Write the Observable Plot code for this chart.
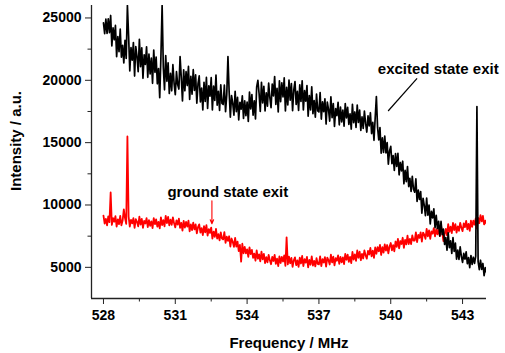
<!DOCTYPE html>
<html>
<head>
<meta charset="utf-8">
<script src="https://cdn.jsdelivr.net/npm/d3@7"></script>
<script src="https://cdn.jsdelivr.net/npm/@observablehq/plot@0.6"></script>
<style>
  body { margin: 0; background: #fff; }
</style>
</head>
<body>
<div id="chart"></div>
<script>
// Frequency grid of the scan (MHz): first sample and sample spacing
const freqStart = 528;
const freqStep = 0.05;

// Detected intensity (a.u.), one row per MHz, 20 samples each
const excitedState = [
  24600,23740,24910,23760,24930,23820,25200,22750,24200,23250,24400,21900,23500,22300,24100,21850,22800,21400,23200,21750,
  26000,23550,20750,22620,21620,23020,20340,22700,21930,20690,23290,21090,22610,20160,22040,21280,22680,20240,22110,20510,
  21780,19760,22420,20640,21860,19720,20940,18600,21940,26000,21060,19240,21980,19920,21410,18940,20550,19160,21250,19760,
  18850,20690,19670,19300,21900,20240,18340,20840,19160,20690,19580,21110,18460,20320,18880,20850,19190,20430,18160,19730,
  20350,18270,19380,17630,19840,18310,20230,17750,19560,18730,20210,17620,19540,18380,20420,18010,19120,17590,19630,18150,
  18060,19610,17480,18850,21900,19080,17040,18770,18170,17200,19120,17480,18640,16820,18240,17690,18750,16940,18360,17170,
  18250,16700,19050,17700,18850,17200,18350,16900,19480,20000,18940,17500,19840,18180,19520,17550,19000,17930,19770,18600,
  17800,19700,18740,20300,18070,19360,17460,19960,18280,19790,18670,20190,17540,19430,18020,20020,18400,19740,17560,19230,
  19900,18060,19120,17580,19640,18300,19960,17620,19180,18330,19580,17130,18780,17630,19480,17330,18380,17040,18890,17550,
  17460,19020,16890,18270,17490,18510,16490,18250,17670,16730,18670,17010,18140,16300,17730,17170,18240,16430,17850,16670,
  17620,16320,18130,16990,17840,16460,17310,16090,18070,16600,17460,16220,18020,16620,17620,15980,17060,16140,17540,16540,
  15850,17140,16350,17400,15730,16620,15190,16980,18700,16220,15220,16210,14160,15380,14210,15520,14180,15010,13280,14340,
  14700,13310,13960,12780,14130,13090,14150,12420,13410,12730,13510,11700,12770,11870,13080,11480,12130,11090,12300,11260,
  11030,12090,10280,11200,10440,11080,9340,10540,9970,9140,10560,9190,9990,8480,9490,8960,9690,8190,9170,8110,
  8690,7510,8680,7620,8070,6830,7380,6370,7770,6580,7130,6120,7390,6270,6950,5650,6390,5630,6650,5880,
  5400,6120,5660,6240,5290,5780,4970,5950,5230,5810,5320,5890,17900,5460,4820,5570,4830,5310,4340,4970,
  4600
];

const groundState = [
  9150,8510,8890,8360,9090,8620,11000,8400,8950,8660,9110,8260,8850,8460,9120,8370,8750,9650,8950,8480,
  15500,9070,8260,8810,8530,8940,8170,8860,8650,8290,9060,8420,8880,8170,8730,8520,8940,8230,8790,8330,
  8690,8140,8950,8460,8850,8260,8650,8130,9010,8390,8780,8280,9120,8550,9040,8370,8830,8410,9000,8530,
  8200,8770,8430,8900,8170,8570,7950,8730,8180,8640,8270,8740,7880,8450,7980,8590,8040,8440,7720,8230,
  8450,7790,8150,7590,8300,7810,8380,7540,8070,7760,8190,7310,7870,7450,8080,7310,7660,7170,7800,7310,
  7240,7820,6960,7460,7130,7490,6670,7310,7050,6640,7360,6670,7060,6300,6800,5450,6890,6130,6630,6120,
  6440,5840,6600,6060,6400,5760,6100,5530,6360,5690,6030,5480,6260,5640,6070,5340,5810,5400,6000,5560,
  5250,5840,5510,5990,5280,5690,5090,5880,5350,5830,5470,5950,5110,7400,5240,5860,5330,5750,5040,5560,
  5800,5170,5560,5030,5770,5310,5910,5100,5660,5380,5840,5000,5590,5210,5870,5140,5520,5070,5730,5280,
  5240,5880,5090,5660,5390,5820,5060,5770,5570,5230,6010,5390,5850,5160,5730,5530,5960,5270,5840,5400,
  5790,5250,6080,5610,6010,5440,5840,5340,6230,5620,6030,5520,6350,5770,6250,5570,6080,5710,6360,5960,
  5700,6320,6030,6550,5880,6330,5760,6590,6090,6610,6290,6800,5990,6610,6180,6840,6340,6790,6120,6670,
  6950,6360,6780,6290,7070,6650,7280,6520,7110,6870,7370,6560,7200,6850,7550,6860,7280,6860,7560,7150,
  7140,7800,7020,7610,7360,7810,7060,7790,7610,7290,8090,7480,7970,7290,7880,7700,8150,7480,8060,7640,
  8040,7500,8320,7850,7100,7680,8080,7570,8460,7850,8260,7750,8570,7990,8470,7790,8290,7930,8570,8170,
  7900,8520,8220,8730,8050,8490,7920,8740,8240,8750,8420,8930,8110,8970,8540,9190,8680,9120,8440,8740,
  8500
];

// Axis ticks
const xDomain = [527.5, 544];
const yDomain = [2500, 26000];
const xTicks = [528, 531, 534, 537, 540, 543];
const xMinorTicks = [529.5, 532.5, 535.5, 538.5, 541.5];
const yTicks = [5000, 10000, 15000, 20000, 25000];
const yMinorTicks = [7500, 12500, 17500, 22500];

// Annotations
const annotationLabels = ["excited state exit", "ground state exit"];
const annotationFreq = [539.46, 530.67];
const annotationLevel = [20870, 11000];
const excitedPointer = {f1: 541.1, v1: 20160, f2: 539.89, v2: 17540};
const groundPointer = {f: 532.53, v1: 10330, v2: 8490};

const toRows = (values) => values.map((v, i) => ({
  f: Math.round((freqStart + i * freqStep) * 1000) / 1000,
  v
}));

const notes = annotationLabels.map((text, i) => ({text, f: annotationFreq[i], v: annotationLevel[i]}));

const chart = Plot.plot({
  width: 505,
  height: 353,
  marginLeft: 91,
  marginRight: 19,
  marginTop: 5,
  marginBottom: 55,
  x: {domain: xDomain},
  y: {domain: yDomain},
  style: {
    fontFamily: '"Liberation Sans", Arial, sans-serif',
    fontSize: "14px",
    fontWeight: "bold",
    color: "#000",
    background: "#fff"
  },
  marks: [
    Plot.lineY(toRows(groundState), {x: "f", y: "v", stroke: "#ff0000", strokeWidth: 1.8, clip: true}),
    Plot.lineY(toRows(excitedState), {x: "f", y: "v", stroke: "#000", strokeWidth: 1.7, clip: true}),
    Plot.ruleX([xDomain[0]], {stroke: "#222", strokeWidth: 1.3}),
    Plot.ruleY([yDomain[0]], {stroke: "#222", strokeWidth: 1.3}),
    Plot.axisX(xTicks, {tickSize: 6, tickPadding: 6, tickFormat: (d) => String(d), label: null, stroke: "#222"}),
    Plot.axisX(xMinorTicks, {tickSize: 3.5, tickFormat: () => "", label: null, stroke: "#222"}),
    Plot.axisY(yTicks, {tickSize: 6, tickPadding: 4, tickFormat: (d) => String(d), label: null, stroke: "#222"}),
    Plot.axisY(yMinorTicks, {tickSize: 3.5, tickFormat: () => "", label: null, stroke: "#222"}),
    Plot.text(["Frequency / MHz"], {frameAnchor: "bottom", textAnchor: "middle", lineAnchor: "middle", dy: 45, fontSize: 15}),
    Plot.text(["Intensity / a.u."], {frameAnchor: "left", textAnchor: "middle", lineAnchor: "middle", dx: -75, dy: -11, rotate: -90, fontSize: 15}),
    Plot.text(notes, {x: "f", y: "v", text: "text", textAnchor: "start", fontSize: 15, fill: "#000"}),
    Plot.link([excitedPointer], {x1: "f1", y1: "v1", x2: "f2", y2: "v2", stroke: "#000", strokeWidth: 1.2}),
    Plot.arrow([groundPointer], {x1: "f", y1: "v1", x2: "f", y2: "v2", stroke: "#ff0000", strokeWidth: 1.1, headLength: 6, headAngle: 45})
  ]
});

document.getElementById("chart").appendChild(chart);
</script>
</body>
</html>
